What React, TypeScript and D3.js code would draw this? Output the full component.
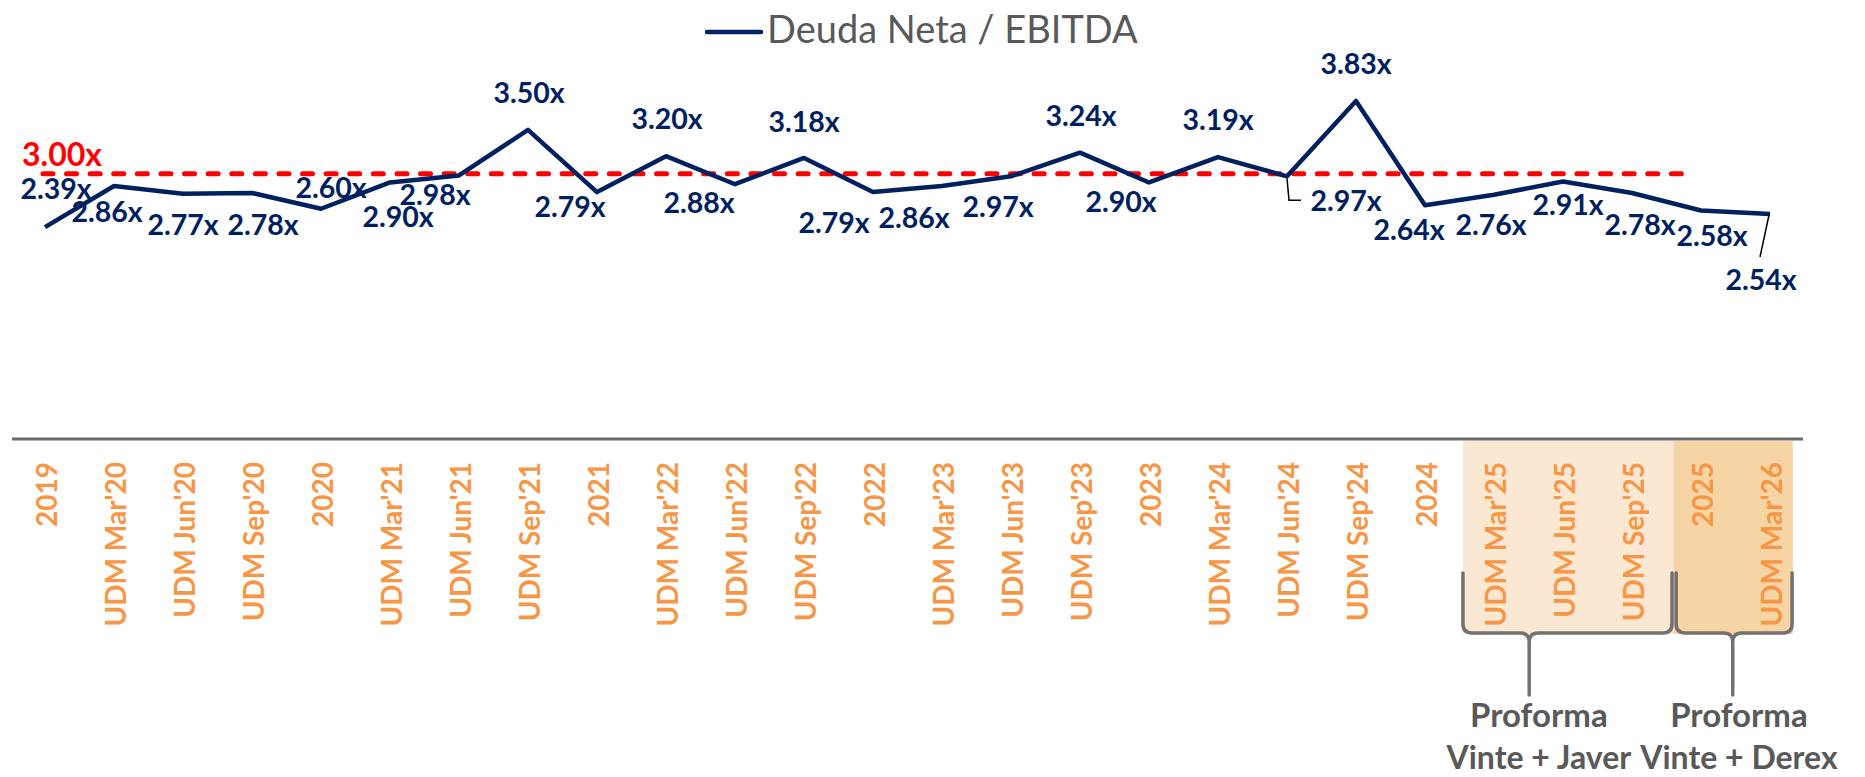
import React from "react";
import * as d3 from "d3";

const categories: string[] = [
  "2019", "UDM Mar'20", "UDM Jun'20", "UDM Sep'20", "2020",
  "UDM Mar'21", "UDM Jun'21", "UDM Sep'21", "2021",
  "UDM Mar'22", "UDM Jun'22", "UDM Sep'22", "2022",
  "UDM Mar'23", "UDM Jun'23", "UDM Sep'23", "2023",
  "UDM Mar'24", "UDM Jun'24", "UDM Sep'24", "2024",
  "UDM Mar'25", "UDM Jun'25", "UDM Sep'25", "2025", "UDM Mar'26",
];

const deudaNetaEbitda: number[] = [
  2.39, 2.86, 2.77, 2.78, 2.60, 2.90, 2.98, 3.50, 2.79, 3.20, 2.88, 3.18, 2.79,
  2.86, 2.97, 3.24, 2.90, 3.19, 2.97, 3.83, 2.64, 2.76, 2.91, 2.78, 2.58, 2.54,
];

const threshold = 3.0;
const seriesName = "Deuda Neta / EBITDA";

const groupLabels: string[][] = [
  ["Proforma", "Vinte + Javer"],
  ["Proforma", "Vinte + Derex"],
];

// layout: label offsets (px) relative to each point
const labelOffsets: [number, number][] = [
  [11, -28], [-7, 36], [0, 41], [11, 42], [10, -11], [8, 45], [-24, 30],
  [1, -27], [-27, 25], [1, -27], [-36, 29], [0, -26], [-39, 41], [-28, 42],
  [-13, 41], [1, -27], [-28, 30], [0, -27], [59, 35], [0, -27], [-16, 35],
  [-3, 40], [5, 33], [8, 42], [11, 36], [-9, 76],
];

const W = 1865;
const H = 777;
const NAVY = "#002060";
const ORANGE = "#F79646";
const GRAY = "#595959";
const BRACE = "#767171";
const FONT = "Lato, 'Open Sans', sans-serif";

export default function App() {
  const x = d3.scalePoint<string>().domain(categories).range([45, 1770]);
  const step = x.step();
  const x0 = x(categories[0]) as number;
  const xf = (i: number) => x0 + i * step;
  const y = d3.scaleLinear().domain([2, 4]).range([261.3, 86.1]);

  const line = d3
    .line<number>()
    .x((_, i) => x(categories[i]) as number)
    .y((d) => y(d));

  const axisY = 439;
  const bandTop = 441;
  const bandBottom = 634;
  const bands = [
    { from: 20.55, to: 23.6, fill: "#FBE8D2" },
    { from: 23.6, to: 25.33, fill: "#F6D4A3" },
  ];
  const braces = [
    { from: 20.55, to: 23.58, tip: 21.51, text: 21.65 },
    { from: 23.64, to: 25.32, tip: 24.46, text: 24.55 },
  ];
  const braceTop = 573;
  const braceY = 633;
  const braceTipY = 695;

  const bracePath = (l: number, r: number, t: number) => {
    const c = 9;
    return [
      `M${l},${braceTop} L${l},${braceY - c} Q${l},${braceY} ${l + c},${braceY}`,
      `L${t - c},${braceY} Q${t},${braceY} ${t},${braceY + c} L${t},${braceTipY}`,
      `M${t},${braceY + c} Q${t},${braceY} ${t + c},${braceY}`,
      `L${r - c},${braceY} Q${r},${braceY} ${r},${braceY - c} L${r},${braceTop}`,
    ].join(" ");
  };

  const dashStart = xf(-0.03);
  const dashEnd = xf(23.87);

  return (
    <svg
      width={W}
      height={H}
      viewBox={`0 0 ${W} ${H}`}
      style={{ position: "absolute", left: 0, top: 0, display: "block", background: "#fff" }}
      fontFamily={FONT}
    >
      {/* shaded bands */}
      {bands.map((b, i) => (
        <rect
          key={"b" + i}
          x={xf(b.from)}
          y={bandTop}
          width={xf(b.to) - xf(b.from)}
          height={bandBottom - bandTop}
          fill={b.fill}
        />
      ))}

      {/* axis line */}
      <line x1={12} x2={1803} y1={axisY} y2={axisY} stroke="#6B6B6B" strokeWidth={3} />

      {/* x labels */}
      {categories.map((c, i) => (
        <text
          key={"xl" + i}
          transform={`translate(${(x(c) as number) + 2},462) rotate(-90)`}
          textAnchor="end"
          dy="0.36em"
          fontSize={28}
          fontWeight={700}
          fill={ORANGE}
        >
          {c}
        </text>
      ))}

      {/* braces */}
      {braces.map((b, i) => (
        <g key={"br" + i}>
          <path
            d={bracePath(xf(b.from), xf(b.to), xf(b.tip))}
            fill="none"
            stroke={BRACE}
            strokeWidth={3.5}
            strokeLinecap="round"
            strokeLinejoin="round"
          />
          {groupLabels[i].map((t, j) => (
            <text
              key={j}
              x={xf(b.text)}
              y={727 + j * 42}
              textAnchor="middle"
              fontSize={j === 0 ? 33 : 32}
              fontWeight={700}
              fill={GRAY}
            >
              {t}
            </text>
          ))}
        </g>
      ))}

      {/* threshold dashed line */}
      <line
        x1={dashStart}
        x2={dashEnd}
        y1={y(threshold)}
        y2={y(threshold)}
        stroke="#FF0000"
        strokeWidth={5}
        strokeDasharray="10 13.6"
        strokeLinecap="round"
      />
      <text x={22} y={166} fontSize={32} fontWeight={700} fill="#FF0000">
        {threshold.toFixed(2) + "x"}
      </text>

      {/* main line */}
      <path
        d={line(deudaNetaEbitda) as string}
        fill="none"
        stroke={NAVY}
        strokeWidth={4.5}
        strokeLinejoin="round"
      />

      {/* leader lines */}
      {(() => {
        const i = 18;
        const px = x(categories[i]) as number;
        const py = y(deudaNetaEbitda[i]);
        return (
          <path
            d={`M${px},${py + 2} L${px + 2},${py + 24} L${px + 14},${py + 24}`}
            fill="none"
            stroke="#000"
            strokeWidth={1.5}
          />
        );
      })()}
      {(() => {
        const i = 25;
        const px = x(categories[i]) as number;
        const py = y(deudaNetaEbitda[i]);
        return (
          <line x1={px - 1} y1={py + 1} x2={px - 10} y2={py + 43} stroke="#000" strokeWidth={1.5} />
        );
      })()}

      {/* data labels */}
      {deudaNetaEbitda.map((v, i) => (
        <text
          key={"dl" + i}
          x={(x(categories[i]) as number) + labelOffsets[i][0]}
          y={y(v) + labelOffsets[i][1]}
          textAnchor="middle"
          fontSize={28.5}
          fontWeight={700}
          fill={NAVY}
        >
          {v.toFixed(2) + "x"}
        </text>
      ))}

      {/* legend */}
      <line x1={707} x2={761} y1={32} y2={32} stroke={NAVY} strokeWidth={4.5} strokeLinecap="round" />
      <text x={767} y={43} fontSize={38} fill={GRAY}>
        {seriesName}
      </text>
    </svg>
  );
}
